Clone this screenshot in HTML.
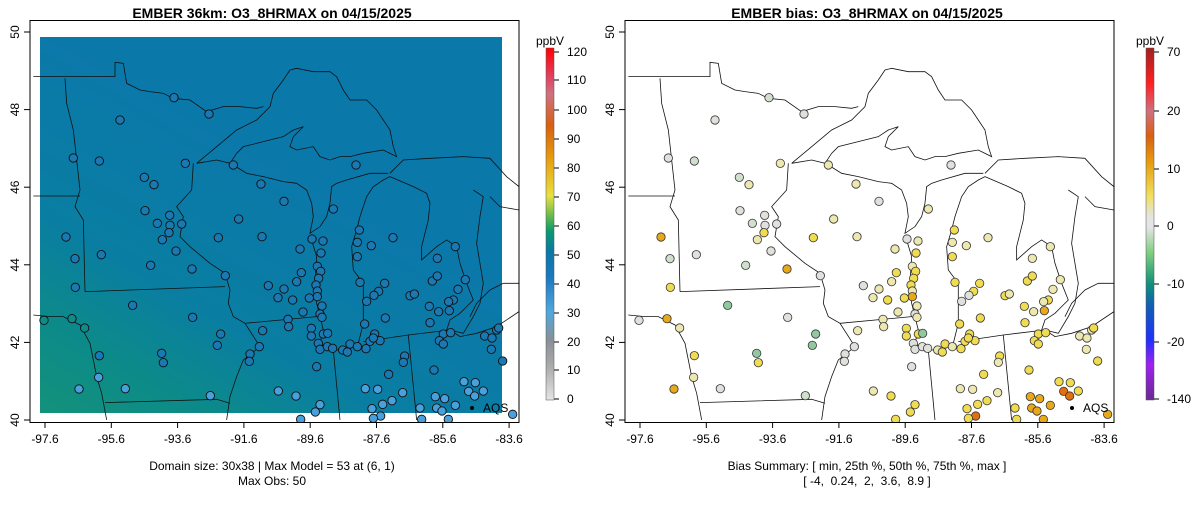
<!DOCTYPE html>
<html><head><meta charset="utf-8"><style>
body{margin:0;background:#fff;width:1200px;height:502px;overflow:hidden}
text{font-family:"Liberation Sans",sans-serif;font-size:12px;fill:#000}
</style></head><body>
<svg id="s" width="1200" height="502" xmlns="http://www.w3.org/2000/svg">
<defs>
<linearGradient id="fld" x1="0" y1="1" x2="0.5" y2="0.3">
<stop offset="0" stop-color="#13927a"/><stop offset="0.25" stop-color="#0c8a8a"/><stop offset="0.5" stop-color="#0a7ea2"/><stop offset="1" stop-color="#0b78aa"/>
</linearGradient>
<linearGradient id="cb1" x1="0" y1="1" x2="0" y2="0">
<stop offset="0" stop-color="#e4e4e4"/><stop offset="0.1" stop-color="#a8a8a8"/><stop offset="0.17" stop-color="#8a9098"/><stop offset="0.25" stop-color="#50a8dc"/><stop offset="0.35" stop-color="#1a78c0"/><stop offset="0.42" stop-color="#0a78a8"/><stop offset="0.48" stop-color="#0a9a70"/><stop offset="0.52" stop-color="#60b850"/><stop offset="0.58" stop-color="#e8e040"/><stop offset="0.68" stop-color="#e8a010"/><stop offset="0.78" stop-color="#d86010"/><stop offset="0.87" stop-color="#d07080"/><stop offset="0.92" stop-color="#e04060"/><stop offset="1" stop-color="#ff0000"/>
</linearGradient>
<linearGradient id="cb2" x1="0" y1="1" x2="0" y2="0">
<stop offset="0" stop-color="#6a2a90"/><stop offset="0.1" stop-color="#a020f0"/><stop offset="0.17" stop-color="#2030ff"/><stop offset="0.27" stop-color="#1060b0"/><stop offset="0.33" stop-color="#10907a"/><stop offset="0.42" stop-color="#80d080"/><stop offset="0.49" stop-color="#e4e4e4"/><stop offset="0.52" stop-color="#e4e4e4"/><stop offset="0.58" stop-color="#f0e060"/><stop offset="0.67" stop-color="#e8a010"/><stop offset="0.75" stop-color="#d86010"/><stop offset="0.82" stop-color="#d07080"/><stop offset="0.9" stop-color="#ff2020"/><stop offset="1" stop-color="#a02020"/>
</linearGradient>
<clipPath id="c1"><rect x="30" y="20" width="489" height="402"/></clipPath>
<clipPath id="c2"><rect x="625" y="20" width="489" height="402"/></clipPath>
</defs>
<text x="272" y="18" text-anchor="middle" style="font-size:14px;font-weight:bold">EMBER 36km: O3_8HRMAX on 04/15/2025</text>
<text x="867" y="18" text-anchor="middle" style="font-size:14px;font-weight:bold">EMBER bias: O3_8HRMAX on 04/15/2025</text>
<rect x="40" y="37" width="462" height="376" fill="url(#fld)"/>
<g id="m1" clip-path="url(#c1)"></g>
<g id="m2" clip-path="url(#c2)"></g>
<rect x="30" y="20.5" width="489" height="402" fill="none" stroke="#000"/>
<rect x="625" y="20.5" width="489" height="402" fill="none" stroke="#000"/>
<g id="ax"></g>
<rect x="546" y="48" width="8" height="352" fill="url(#cb1)" stroke="#555" stroke-width="0.5"/>
<rect x="1146" y="48" width="8" height="352" fill="url(#cb2)" stroke="#555" stroke-width="0.5"/>
<text x="550" y="45" text-anchor="middle">ppbV</text>
<text x="1150" y="45" text-anchor="middle">ppbV</text>
<text x="272" y="470" text-anchor="middle">Domain size: 30x38 | Max Model = 53 at (6, 1)</text>
<text x="272" y="485" text-anchor="middle">Max Obs: 50</text>
<text x="867" y="470" text-anchor="middle">Bias Summary: [ min, 25th %, 50th %, 75th %, max ]</text>
<text x="867" y="485" text-anchor="middle" style="white-space:pre">[ -4,  0.24,  2,  3.6,  8.9 ]</text>
</svg>
<script>
const NS="http://www.w3.org/2000/svg";
function el(p,t,a,txt){const e=document.createElementNS(NS,t);for(const k in a)e.setAttribute(k,a[k]);if(txt!==undefined)e.textContent=txt;p.appendChild(e);return e;}
const ax=document.getElementById('ax');
[[0,45],[595,640]].forEach(([o,x0])=>{
 const labs=["-97.6","-95.6","-93.6","-91.6","-89.6","-87.6","-85.6","-83.6"];
 labs.forEach((l,i)=>{const x=x0+i*66.3;el(ax,'line',{x1:x,x2:x,y1:422,y2:428,stroke:'#000'});el(ax,'text',{x:x,y:443,'text-anchor':'middle'},l);});
 el(ax,'line',{x1:x0,x2:x0+7*66.3,y1:422.5,y2:422.5,stroke:'#000'});
 [40,42,44,46,48,50].forEach((v,i)=>{const y=420-i*77.6;el(ax,'line',{x1:o+24,x2:o+30,y1:y,y2:y,stroke:'#000'});el(ax,'text',{x:o+19,y:y,'text-anchor':'middle',transform:`rotate(-90 ${o+19} ${y})`},String(v));});
});
function cb(x,ticks){ticks.forEach(([l,y])=>{el(ax,'line',{x1:x,x2:x+5,y1:y,y2:y,stroke:'#000'});el(ax,'text',{x:x+13,y:y+4},l);});}
cb(554,[["120",52],["110",80],["100",110],["90",139],["80",168],["70",197],["60",226],["50",255],["40",284],["30",313],["20",342],["10",370],["0",399]]);
cb(1154,[["70",52],["20",111],["10",169],["0",226],["-10",284],["-20",342],["-140",399]]);
// lines in zoom coords: px = off + zx/3, py = 30 + zy/3
const lines=[
"10,140 255,140 255,97 280,100 290,160 330,180 360,185 400,190 430,205 480,210 530,245 580,230 630,230 680,235 700,230",
"500,400 560,350 620,300 680,270 720,230 730,190 760,150 780,120 800,115 850,125 900,125 920,140 940,180 960,210 1010,210 1040,240 1060,270 1080,300 1090,350 1100,380 1060,360 1000,370 960,380 930,380 900,390 870,380 850,350 800,360 780,350 790,320 820,290 790,300 760,320 700,335 640,350 620,370 600,400 560,390 500,400",
"490,400 485,480 440,530 460,560 450,620 480,650 540,700 585,730 600,780 595,820 610,860 645,880 690,950 640,990 620,1040 600,1100 590,1170",
"105,145 110,220 130,300 150,480 135,530 160,570 165,785",
"10,498 150,498",
"165,785 585,770",
"10,855 60,860 100,860 150,885 180,940 200,1040 215,1090 230,1170",
"225,1118 560,1108 600,1120",
"645,880 860,860",
"610,405 650,430 700,440 760,455 800,460 830,480 845,520 850,560 840,610 870,590 890,560 900,520 905,470 920,460 950,450 1020,430 1075,430",
"845,630 860,680 855,760 860,820 870,860 880,900 870,940 900,960 950,960 985,940 1000,880 1000,800 1000,760 970,720 965,650 980,600 990,560 1010,500 1030,470 1060,450 1080,440",
"1080,440 1150,470 1190,490 1200,520 1195,570 1175,650 1175,690 1220,650 1250,630 1280,650 1290,700 1310,760 1330,810 1310,830 1290,850 1260,870 1250,900",
"1080,430 1120,390 1200,385 1300,380 1380,385 1430,440 1467,470",
"1330,480 1360,500 1350,560 1340,640 1350,700 1360,760 1350,820 1330,860 1300,910 1260,900",
"1000,935 1135,915 1260,900",
"910,960 930,1170",
"1135,915 1160,1170",
"1260,900 1290,920 1340,910 1400,890 1467,845",
"1320,860 1340,820 1380,780 1420,760 1467,760",
"1380,500 1410,530 1467,540"
];
const m1=document.getElementById('m1'),m2=document.getElementById('m2');
lines.forEach(p=>{[[m1,30],[m2,625]].forEach(([g,o])=>{el(g,'polyline',{points:p,transform:`translate(${o} 30) scale(0.3333)`,fill:'none',stroke:'#111','stroke-width':0.8,'vector-effect':'non-scaling-stroke'});});});
const C={g:'#e0e0dc',lg:'#d0e0cc',c:'#ece8b0',y:'#f0dc50',o:'#e8a818',r:'#e07010',gr:'#90c8a0'};
const P="432,203,lg 537,252,g 270,270,g 130,384,g 208,393,lg 466,400,c 610,405,c 978,405,g 343,442,lg 372,464,c 693,462,c 762,514,g 345,542,g 419,556,g 382,580,lg 420,586,g 455,582,g 417,608,y 397,629,c 626,567,c 910,537,c 108,621,o 135,686,lg 214,674,g 438,663,g 362,706,lg 486,717,o 565,623,y 696,620,c 846,627,g 879,633,c 988,600,y 982,637,c 1024,647,c 1089,623,c 1276,650,c 1222,685,c 873,669,y 982,680,y 810,657,c 586,737,g 862,709,c 872,724,y 866,745,y 858,765,y 862,783,c 862,800,o 838,804,y 814,728,y 800,755,c 762,777,c 715,767,g 744,803,c 788,810,y 990,757,y 1064,760,y 1046,784,y 1032,796,g 1010,814,g 1140,797,y 1153,792,c 1207,753,y 1222,738,y 1306,749,c 1284,778,c 1270,810,y 1256,815,c 1198,829,y 1226,845,c 1258,842,o 1200,878,y 1066,864,y 1004,882,y 876,828,c 870,852,g 876,862,c 819,846,c 774,868,c 776,890,c 698,902,c 136,772,y 42,871,g 126,866,o 164,894,c 308,826,gr 488,862,g 572,912,gr 562,946,gr 688,950,g 660,972,g 658,994,g 395,970,gr 400,998,y 208,977,y 206,1042,c 147,1077,o 286,1076,g 541,1097,lg 844,895,y 844,918,y 880,912,y 893,910,gr 865,940,g 870,958,g 892,950,g 908,955,g 938,960,c 952,966,y 960,942,y 982,950,c 1008,956,y 1020,934,y 1034,912,y 1050,932,y 1030,924,y 860,1010,g 1240,912,y 1262,908,y 1228,932,y 1240,942,y 1364,918,c 1386,924,c 1400,900,c 1406,894,y 1384,958,c 1418,993,y 1212,1020,y 1124,978,y 1120,997,c 1076,1033,y 1006,1076,c 1043,1078,c 1118,1088,c 1302,1055,y 1336,1058,y 1360,1083,y 1316,1084,r 1334,1098,r 745,1083,c 798,1098,y 1216,1100,o 1244,1106,o 1220,1134,o 1236,1143,o 1276,1126,o 1086,1112,y 1058,1123,y 1026,1136,y 1052,1158,r 1170,1134,y 870,1124,y 856,1146,y 1448,1153,o 1030,1165,y 1175,1168,y 1255,1168,o 812,1168,y";
P.split(' ').forEach(s=>{const [zx,zy,k]=s.split(',');const x=zx/3,y=30+zy/3;
 const lc=y>375?'#48a0dc':(x<60&&y>290?'#0d8c88':'#1a78b2');
 el(m1,'circle',{cx:30+x,cy:y,r:4.2,fill:lc,stroke:'#111','stroke-width':0.9});
 el(m2,'circle',{cx:625+x,cy:y,r:4.2,fill:C[k],stroke:'#333','stroke-width':0.8});
});
[[m1,472],[m2,1072]].forEach(([g,x])=>{el(g,'circle',{cx:x,cy:408,r:2,fill:'#000'});el(g,'text',{x:x+11,y:412},'AQS');});
</script>
</body></html>
